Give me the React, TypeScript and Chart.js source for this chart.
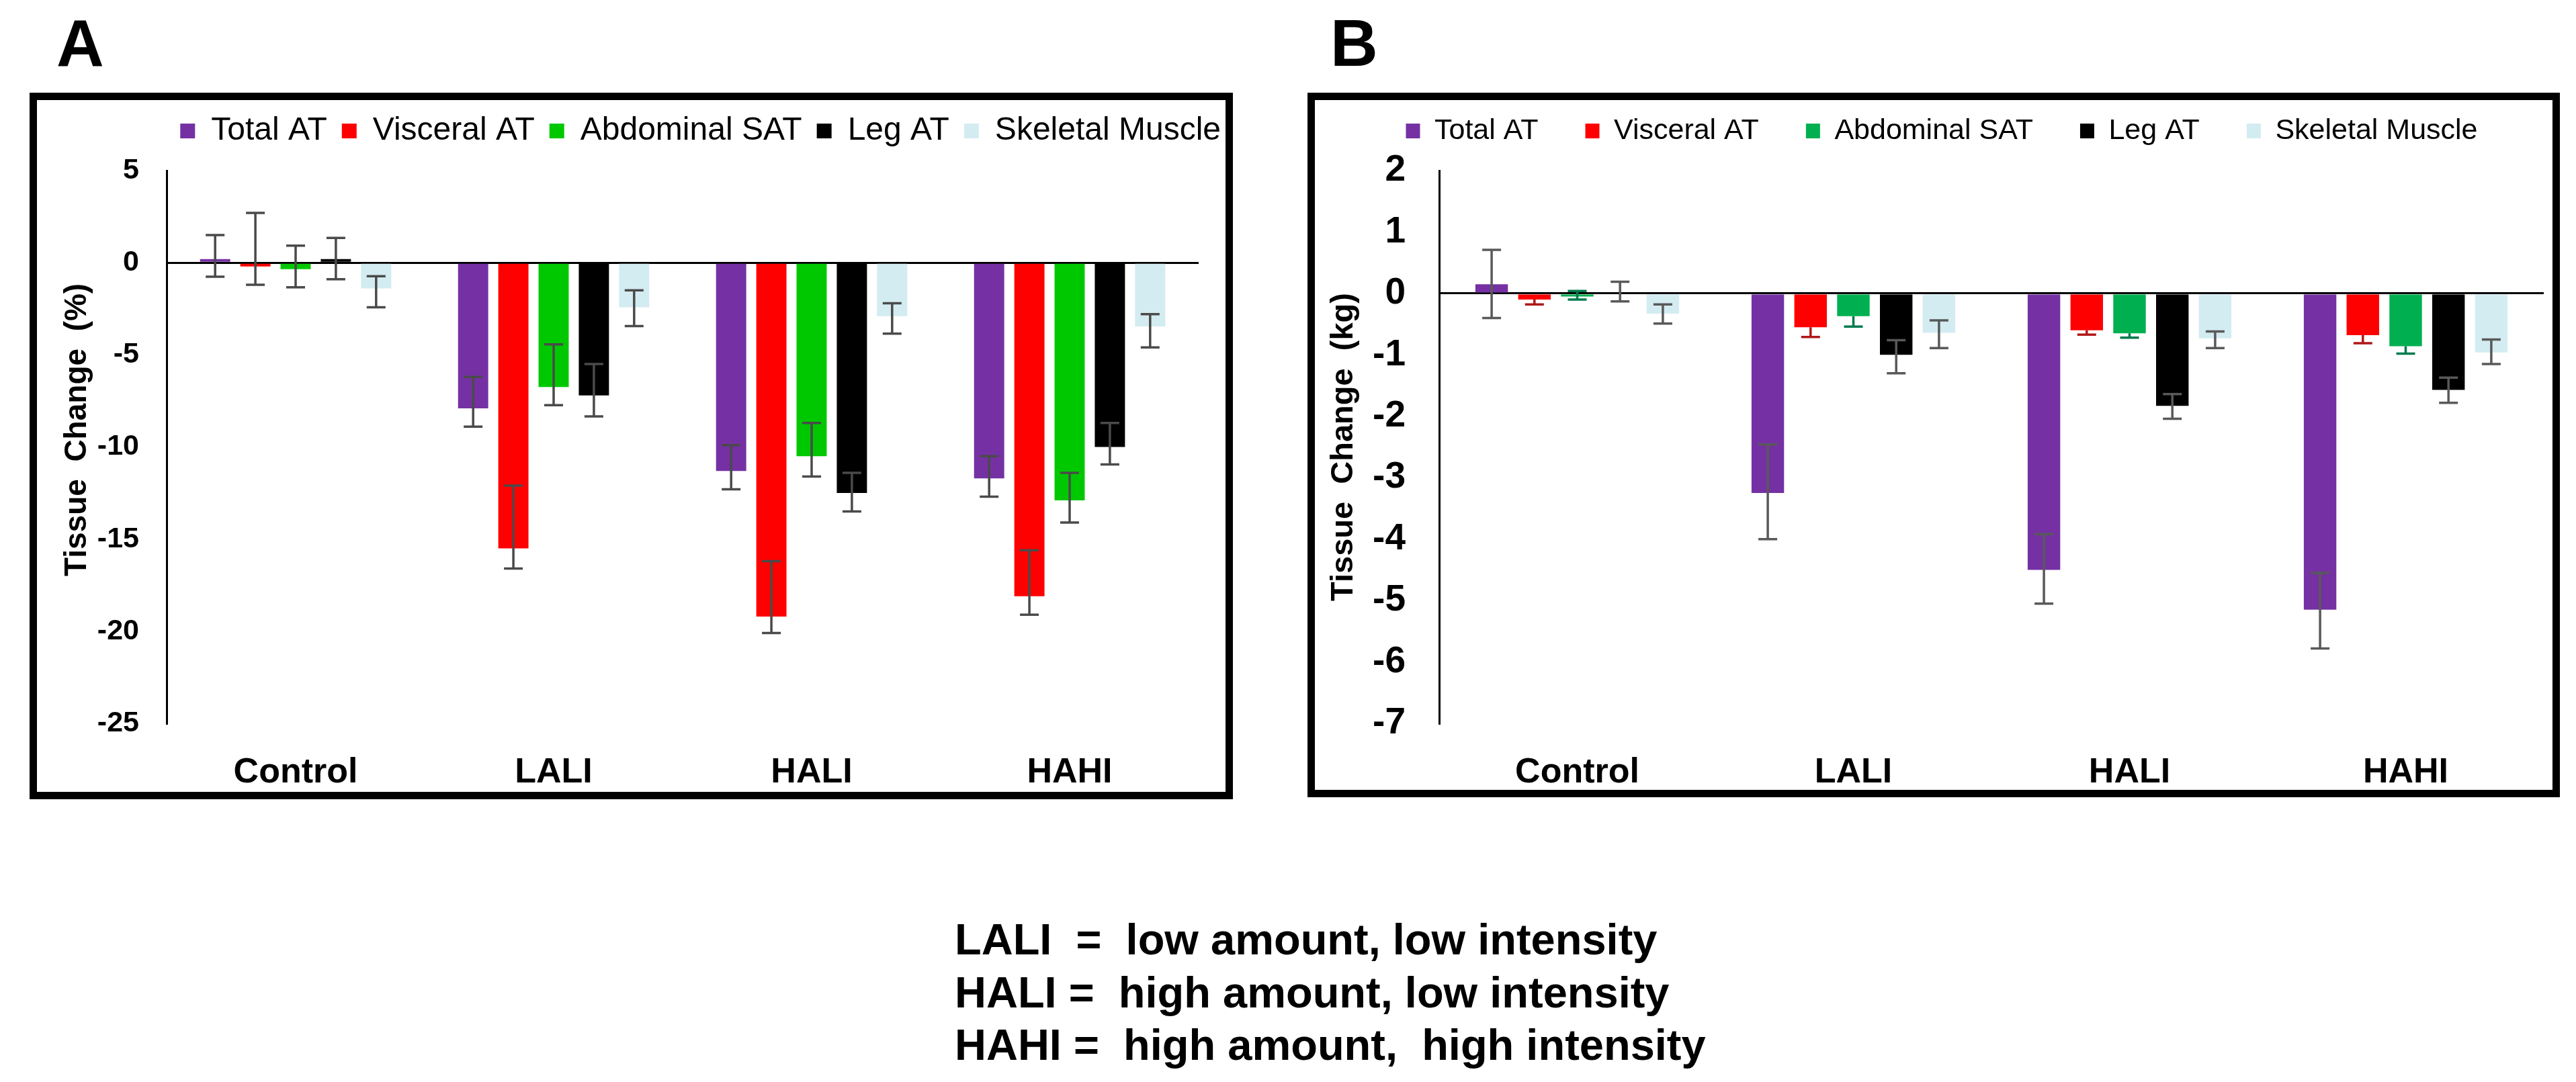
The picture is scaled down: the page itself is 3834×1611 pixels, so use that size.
import React, { useEffect, useRef } from 'react';
import { Chart, registerables } from 'chart.js';

Chart.register(...registerables);

const FONT = "'Liberation Sans', Arial, Helvetica, sans-serif";

// ---------- shared ----------
const categories = ['Control', 'LALI', 'HALI', 'HAHI'];
const seriesNames = ['Total AT', 'Visceral AT', 'Abdominal SAT', 'Leg AT', 'Skeletal Muscle'];

// ---------- Panel A: % change ----------
const aTicks = { min: -25, max: 5, step: 5 };
const aTotalAT = [0.2, -7.9, -11.3, -11.7];
const aVisceralAT = [-0.2, -15.5, -19.2, -18.1];
const aAbdominalSAT = [-0.35, -6.75, -10.5, -12.9];
const aLegAT = [0.2, -7.2, -12.5, -10.0];
const aSkeletalMuscle = [-1.4, -2.42, -2.9, -3.46];
// error bar end points [low, high]
const aTotalATErr = [[-0.76, 1.5], [-8.9, -6.2], [-12.3, -9.9], [-12.7, -10.5]];
const aVisceralATErr = [[-1.2, 2.7], [-16.6, -12.1], [-20.1, -16.2], [-19.1, -15.6]];
const aAbdominalSATErr = [[-1.33, 0.93], [-7.73, -4.43], [-11.6, -8.7], [-14.1, -11.4]];
const aLegATErr = [[-0.9, 1.35], [-8.34, -5.5], [-13.5, -11.4], [-10.95, -8.7]];
const aSkeletalMuscleErr = [[-2.42, -0.73], [-3.44, -1.5], [-3.85, -2.2], [-4.6, -2.79]];

// ---------- Panel B: kg change ----------
const bTicks = { min: -7, max: 2, step: 1 };
const bTotalAT = [0.15, -3.25, -4.5, -5.15];
const bVisceralAT = [-0.1, -0.55, -0.6, -0.68];
const bAbdominalSAT = [-0.05, -0.37, -0.65, -0.86];
const bLegAT = [0.02, -1.0, -1.83, -1.57];
const bSkeletalMuscle = [-0.33, -0.64, -0.73, -0.96];
const bTotalATErr = [[-0.4, 0.71], [-4.0, -2.46], [-5.05, -3.92], [-5.78, -4.55]];
const bVisceralATErr = [[-0.18, -0.1], [-0.71, -0.55], [-0.67, -0.6], [-0.81, -0.68]];
const bAbdominalSATErr = [[-0.1, 0.04], [-0.54, -0.37], [-0.72, -0.65], [-0.98, -0.86]];
const bLegATErr = [[-0.13, 0.19], [-1.3, -0.76], [-2.04, -1.64], [-1.78, -1.37]];
const bSkeletalMuscleErr = [[-0.49, -0.18], [-0.89, -0.44], [-0.89, -0.62], [-1.15, -0.75]];

const PURPLE = '#7531A3';
const RED = '#FF0000';
const GREEN_A = '#00C800';
const GREEN_B = '#00B050';
const BLACK = '#000000';
const LIGHT = '#D3ECF1';

const errorBarPlugin = {
  id: 'errorBars',
  afterDatasetsDraw(chart: any) {
    const ctx = chart.ctx;
    const yScale = chart.scales.y;
    chart.data.datasets.forEach((ds: any, i: number) => {
      const meta = chart.getDatasetMeta(i);
      if (!ds.errorBars || meta.hidden) return;
      ctx.save();
      ctx.strokeStyle = ds.errorColor;
      ctx.lineWidth = ds.errorWidth;
      ctx.lineCap = 'butt';
      meta.data.forEach((bar: any, j: number) => {
        const [lo, hi] = ds.errorBars[j];
        const v = ds.data[j];
        const x = bar.x;
        const yLo = yScale.getPixelForValue(lo);
        const yHi = yScale.getPixelForValue(hi);
        const half = ds.capWidth / 2;
        ctx.beginPath();
        ctx.moveTo(x, yLo);
        ctx.lineTo(x, yHi);
        if (lo !== v) {
          ctx.moveTo(x - half, yLo);
          ctx.lineTo(x + half, yLo);
        }
        if (hi !== v) {
          ctx.moveTo(x - half, yHi);
          ctx.lineTo(x + half, yHi);
        }
        ctx.stroke();
      });
      ctx.restore();
    });
  },
};

const legendTweak = (height: number, dy: number) => ({
  id: 'legendTweak',
  beforeLayout(chart: any) {
    const lg = chart.legend;
    if (!lg || lg.__tweaked) return;
    const orig = lg.fit;
    lg.fit = function () {
      orig.call(this);
      this.height = height;
    };
    lg.__tweaked = true;
  },
  afterLayout(chart: any) {
    const lg = chart.legend;
    if (!lg) return;
    lg.top += dy;
  },
});

type PanelCfg = {
  left: number; top: number; width: number; height: number;
  values: number[][]; errs: number[][][]; colors: string[]; errColors: string[];
  ticks: { min: number; max: number; step: number };
  title: string; titleSize: number; titlePad: number;
  tickSize: number; tickPad: number;
  legendSize: number; legendPad: number; legendAlign: string; boxW: number; boxH: number;
  legendHeight: number; legendDy: number;
  yWidth: number; rightWidth: number; xHeight: number; xPad: number;
  catPct: number; barPct: number;
};

function Panel({ cfg }: { cfg: PanelCfg }) {
  const ref = useRef<HTMLCanvasElement | null>(null);
  useEffect(() => {
    if (!ref.current) return;
    const datasets = seriesNames.map((name, i) => ({
      label: name,
      data: cfg.values[i],
      backgroundColor: cfg.colors[i],
      borderColor: cfg.colors[i],
      borderWidth: 0,
      categoryPercentage: cfg.catPct,
      barPercentage: cfg.barPct,
      errorBars: cfg.errs[i],
      errorColor: cfg.errColors[i],
      errorWidth: 3.5,
      capWidth: 28,
    }));
    const chart = new Chart(ref.current, {
      type: 'bar',
      data: { labels: categories, datasets },
      options: {
        responsive: false,
        animation: false,
        devicePixelRatio: 1,
        layout: { padding: 0 },
        plugins: {
          legend: {
            display: true,
            position: 'top',
            align: cfg.legendAlign,
            labels: {
              font: { family: FONT, size: cfg.legendSize },
              color: '#000',
              boxWidth: cfg.boxW,
              boxHeight: cfg.boxH,
              padding: cfg.legendPad,
            },
          },
          tooltip: { enabled: false },
        },
        scales: {
          x: {
            grid: { display: false },
            border: { display: false },
            ticks: {
              font: { family: FONT, size: 52, weight: 'bold' },
              color: '#000',
              padding: cfg.xPad,
            },
            afterFit: (s: any) => { s.height = cfg.xHeight; },
          },
          y: {
            min: cfg.ticks.min,
            max: cfg.ticks.max,
            z: 1,
            ticks: {
              stepSize: cfg.ticks.step,
              font: { family: FONT, size: cfg.tickSize, weight: 'bold' },
              color: '#000',
              padding: cfg.tickPad,
            },
            grid: {
              drawTicks: false,
              lineWidth: 3,
              color: (c: any) => (c.tick && c.tick.value === 0 ? '#000' : 'rgba(0,0,0,0)'),
            },
            border: { display: true, color: '#000', width: 3 },
            title: {
              display: true,
              text: cfg.title,
              font: { family: FONT, size: cfg.titleSize, weight: 'bold' },
              color: '#000',
              padding: { top: cfg.titlePad, bottom: 0 },
            },
            afterFit: (s: any) => { s.width = cfg.yWidth; },
          },
          yPad: {
            type: 'linear',
            position: 'right',
            display: true,
            grid: { display: false },
            border: { display: false },
            ticks: { display: false },
            afterFit: (s: any) => { s.width = cfg.rightWidth; },
          },
        },
      } as any,
      plugins: [errorBarPlugin, legendTweak(cfg.legendHeight, cfg.legendDy)],
    } as any);
    return () => chart.destroy();
  }, []);
  return (
    <canvas
      ref={ref}
      width={cfg.width}
      height={cfg.height}
      style={{ position: 'absolute', left: cfg.left, top: cfg.top, width: cfg.width, height: cfg.height }}
    />
  );
}

const panelA: PanelCfg = {
  left: 55, top: 149, width: 1784, height: 1030,
  values: [aTotalAT, aVisceralAT, aAbdominalSAT, aLegAT, aSkeletalMuscle],
  errs: [aTotalATErr, aVisceralATErr, aAbdominalSATErr, aLegATErr, aSkeletalMuscleErr],
  colors: [PURPLE, RED, GREEN_A, BLACK, LIGHT],
  errColors: ['#4A4A4A', '#4A4A4A', '#4A4A4A', '#4A4A4A', '#4A4A4A'],
  ticks: aTicks,
  title: '    Tissue  Change  (%)', titleSize: 46, titlePad: 33,
  tickSize: 43, tickPad: 41,
  legendSize: 48, legendPad: 22, legendAlign: 'end', boxW: 22, boxH: 22,
  legendHeight: 105, legendDy: 0,
  yWidth: 193, rightWidth: 55, xHeight: 102, xPad: 34,
  catPct: 0.78, barPct: 0.75,
};

const panelB: PanelCfg = {
  left: 1957, top: 149, width: 1866, height: 1027,
  values: [bTotalAT, bVisceralAT, bAbdominalSAT, bLegAT, bSkeletalMuscle],
  errs: [bTotalATErr, bVisceralATErr, bAbdominalSATErr, bLegATErr, bSkeletalMuscleErr],
  colors: [PURPLE, RED, GREEN_B, BLACK, LIGHT],
  errColors: ['#595959', '#B01818', '#007A4E', '#595959', '#595959'],
  ticks: bTicks,
  title: 'Tissue  Change  (kg)', titleSize: 47, titlePad: 15,
  tickSize: 55, tickPad: 50,
  legendSize: 43, legendPad: 70, legendAlign: 'center', boxW: 21, boxH: 22,
  legendHeight: 105, legendDy: -45.5,
  yWidth: 185, rightWidth: 37, xHeight: 99, xPad: 34,
  catPct: 0.775, barPct: 0.76,
};

const footerLines = [
  'LALI  =  low amount, low intensity',
  'HALI =  high amount, low intensity',
  'HAHI =  high amount,  high intensity',
];

export default function App() {
  const letter: React.CSSProperties = {
    position: 'absolute', top: 15, fontFamily: FONT, fontWeight: 'bold',
    fontSize: 98, lineHeight: '98px', color: '#000',
  };
  const box: React.CSSProperties = {
    position: 'absolute', border: '11px solid #000', boxSizing: 'border-box', background: '#fff',
  };
  return (
    <div style={{ position: 'absolute', left: 0, top: 0, width: 3834, height: 1611, background: '#fff', overflow: 'hidden' }}>
      <div style={{ ...letter, left: 84 }}>A</div>
      <div style={{ ...letter, left: 1980 }}>B</div>
      <div style={{ ...box, left: 44, top: 138, width: 1791, height: 1052 }} />
      <div style={{ ...box, left: 1946, top: 138, width: 1864, height: 1049 }} />
      <Panel cfg={panelA} />
      <Panel cfg={panelB} />
      <div
        style={{
          position: 'absolute', left: 1421, top: 1360, fontFamily: FONT, fontWeight: 'bold',
          fontSize: 65, lineHeight: '78.5px', color: '#000', whiteSpace: 'pre',
        }}
      >
        {footerLines.map((l, i) => (
          <div key={i}>{l}</div>
        ))}
      </div>
    </div>
  );
}
